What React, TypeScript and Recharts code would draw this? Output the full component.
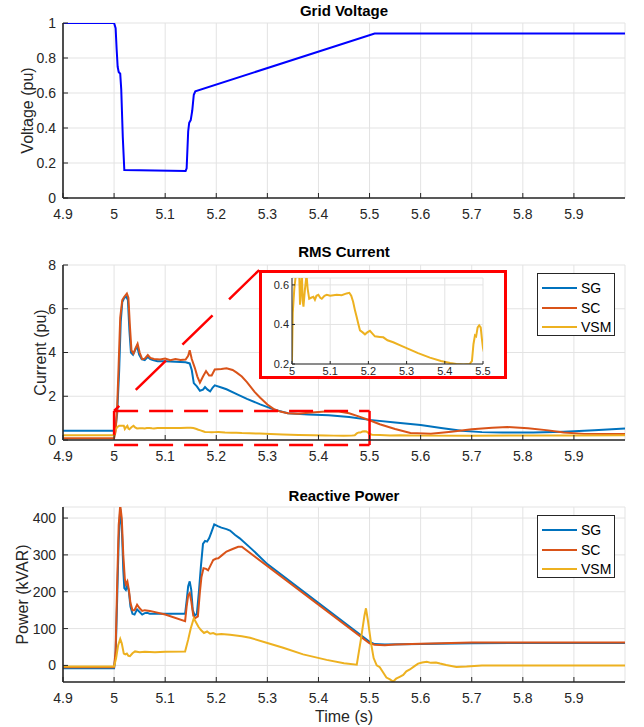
import React from 'react'
import { LineChart, Line, XAxis, YAxis, CartesianGrid, ReferenceLine, Legend } from 'recharts'

// axis ticks
const timeTicks = [4.9, 5, 5.1, 5.2, 5.3, 5.4, 5.5, 5.6, 5.7, 5.8, 5.9]
const voltTicks = [0, 0.2, 0.4, 0.6, 0.8, 1]
const currentTicks = [0, 2, 4, 6, 8]
const powerTicks = [0, 100, 200, 300, 400]
const insetTimeTicks = [5, 5.1, 5.2, 5.3, 5.4, 5.5]
const insetTicks = [0.2, 0.4, 0.6]
const seriesOrder = ['SG', 'SC', 'VSM']

// [time (s), value]
const gridVoltage: [number, number][] = [
  [4.9, 1], [5.0, 1], [5.003, 0.97], [5.005, 0.85], [5.007, 0.75], [5.009, 0.72], [5.012, 0.71],
  [5.014, 0.62], [5.017, 0.35], [5.02, 0.16], [5.14, 0.155], [5.142, 0.17], [5.145, 0.38],
  [5.147, 0.43], [5.15, 0.445], [5.153, 0.5], [5.156, 0.59], [5.159, 0.61], [5.51, 0.94], [6.0, 0.94],
]

const currentSG: [number, number][] = [
  [4.9, 0.42], [5.0, 0.42], [5.003, 0.6], [5.006, 1.2], [5.01, 3.2], [5.013, 5.4], [5.016, 6.3],
  [5.02, 6.5], [5.024, 6.55], [5.027, 6.4], [5.03, 5.0], [5.033, 4.0], [5.037, 3.9], [5.041, 4.1],
  [5.045, 4.3], [5.049, 3.9], [5.054, 3.7], [5.06, 3.65], [5.066, 3.8], [5.071, 3.7], [5.076, 3.65],
  [5.085, 3.6], [5.1, 3.6], [5.12, 3.58], [5.14, 3.55], [5.148, 3.5], [5.152, 3.2], [5.156, 2.6],
  [5.162, 2.45], [5.168, 2.25], [5.174, 2.3], [5.178, 2.42], [5.183, 2.3], [5.188, 2.22], [5.193, 2.4],
  [5.197, 2.5], [5.21, 2.4], [5.22, 2.32], [5.24, 2.1], [5.26, 1.88], [5.286, 1.63], [5.312, 1.4],
  [5.34, 1.22], [5.38, 1.17], [5.42, 1.13], [5.46, 1.05], [5.5, 0.92], [5.55, 0.8], [5.6, 0.69],
  [5.64, 0.55], [5.68, 0.42], [5.72, 0.36], [5.76, 0.34], [5.82, 0.34], [5.88, 0.38], [5.94, 0.45], [6.0, 0.53],
]

const currentSC: [number, number][] = [
  [4.9, 0.08], [5.0, 0.08], [5.003, 0.4], [5.006, 1.5], [5.009, 3.5], [5.012, 5.6], [5.016, 6.4],
  [5.02, 6.55], [5.025, 6.7], [5.028, 6.5], [5.031, 5.2], [5.034, 4.1], [5.038, 3.95], [5.042, 4.2],
  [5.046, 4.4], [5.05, 4.0], [5.055, 3.7], [5.06, 3.72], [5.066, 3.88], [5.071, 3.75], [5.078, 3.7],
  [5.09, 3.68], [5.1, 3.72], [5.11, 3.65], [5.12, 3.7], [5.13, 3.66], [5.14, 3.68], [5.145, 3.85],
  [5.148, 4.1], [5.152, 3.7], [5.158, 3.3], [5.163, 2.9], [5.168, 2.62], [5.174, 2.9], [5.18, 3.15],
  [5.186, 2.95], [5.191, 2.95], [5.197, 3.22], [5.21, 3.25], [5.22, 3.28], [5.232, 3.2], [5.24, 3.08],
  [5.25, 2.9], [5.26, 2.65], [5.275, 2.2], [5.286, 1.93], [5.3, 1.62], [5.312, 1.42], [5.325, 1.3],
  [5.34, 1.22], [5.36, 1.2], [5.38, 1.25], [5.4, 1.28], [5.42, 1.31], [5.44, 1.3], [5.46, 1.22],
  [5.48, 1.07], [5.5, 0.9], [5.52, 0.72], [5.55, 0.5], [5.58, 0.32], [5.62, 0.29], [5.66, 0.38],
  [5.7, 0.49], [5.74, 0.56], [5.77, 0.59], [5.81, 0.54], [5.85, 0.44], [5.88, 0.34], [5.92, 0.28],
  [5.96, 0.27], [6.0, 0.28],
]

const currentVSM: [number, number][] = [
  [4.9, 0.22], [5.0, 0.22], [5.002, 0.46], [5.006, 0.58], [5.01, 0.65], [5.019, 0.65], [5.021, 0.5],
  [5.024, 0.6], [5.026, 0.65], [5.028, 0.52], [5.03, 0.49], [5.034, 0.58], [5.038, 0.65], [5.041, 0.58],
  [5.045, 0.53], [5.05, 0.535], [5.056, 0.54], [5.06, 0.525], [5.064, 0.545], [5.069, 0.55],
  [5.074, 0.535], [5.078, 0.53], [5.085, 0.545], [5.091, 0.55], [5.1, 0.545], [5.117, 0.55],
  [5.13, 0.548], [5.143, 0.557], [5.15, 0.56], [5.155, 0.545], [5.16, 0.515], [5.165, 0.47],
  [5.169, 0.44], [5.174, 0.4], [5.178, 0.37], [5.185, 0.36], [5.191, 0.35], [5.197, 0.36],
  [5.204, 0.368], [5.21, 0.355], [5.217, 0.34], [5.23, 0.337], [5.239, 0.335], [5.25, 0.32],
  [5.265, 0.31], [5.285, 0.293], [5.306, 0.275], [5.33, 0.255], [5.361, 0.232], [5.39, 0.215],
  [5.414, 0.205], [5.43, 0.2], [5.449, 0.198], [5.465, 0.2], [5.471, 0.215], [5.475, 0.3],
  [5.479, 0.345], [5.482, 0.34], [5.486, 0.385], [5.49, 0.395], [5.494, 0.385], [5.497, 0.33],
  [5.5, 0.28], [5.505, 0.24], [5.52, 0.23], [5.54, 0.21], [5.56, 0.22], [5.6, 0.2], [5.7, 0.2],
  [5.8, 0.21], [5.9, 0.21], [6.0, 0.22],
]

const powerSG: [number, number][] = [
  [4.9, -8], [5.0, -8], [5.003, 30], [5.006, 180], [5.009, 340], [5.012, 425], [5.015, 380],
  [5.018, 260], [5.02, 210], [5.023, 205], [5.026, 218], [5.029, 200], [5.032, 160], [5.036, 140],
  [5.04, 138], [5.045, 152], [5.05, 145], [5.055, 138], [5.06, 142], [5.065, 143], [5.07, 140],
  [5.1, 140], [5.139, 140], [5.142, 175], [5.145, 215], [5.148, 228], [5.151, 205], [5.154, 150],
  [5.158, 135], [5.162, 140], [5.166, 200], [5.17, 270], [5.174, 330], [5.178, 338], [5.182, 336],
  [5.186, 345], [5.19, 360], [5.196, 383], [5.203, 378], [5.21, 374], [5.22, 370], [5.227, 366],
  [5.237, 354], [5.246, 345], [5.27, 315], [5.3, 275], [5.5, 64], [5.51, 58], [5.53, 57], [5.6, 58],
  [5.7, 60], [5.8, 61], [6.0, 61],
]

const powerSC: [number, number][] = [
  [4.9, -5], [5.0, -5], [5.003, 40], [5.006, 220], [5.009, 380], [5.012, 435], [5.015, 400],
  [5.018, 300], [5.021, 235], [5.023, 220], [5.026, 228], [5.029, 205], [5.032, 170], [5.036, 150],
  [5.04, 150], [5.045, 165], [5.05, 155], [5.055, 148], [5.06, 150], [5.07, 148], [5.1, 138],
  [5.139, 120], [5.142, 160], [5.145, 190], [5.148, 196], [5.151, 175], [5.155, 135], [5.158, 128],
  [5.164, 133], [5.168, 200], [5.171, 240], [5.175, 264], [5.18, 262], [5.184, 258], [5.19, 275],
  [5.194, 286], [5.2, 290], [5.204, 291], [5.212, 300], [5.22, 309], [5.232, 316], [5.243, 322],
  [5.25, 322], [5.5, 60], [5.51, 56], [5.53, 55], [5.55, 57], [5.6, 59], [5.7, 62], [5.8, 62], [6.0, 62],
]

const powerVSM: [number, number][] = [
  [4.9, -3], [5.0, -3], [5.004, 20], [5.008, 55], [5.012, 72], [5.015, 60], [5.019, 32], [5.022, 30],
  [5.025, 32], [5.028, 26], [5.031, 25], [5.036, 33], [5.041, 38], [5.05, 36], [5.06, 37], [5.08, 36],
  [5.1, 37], [5.139, 38], [5.145, 70], [5.15, 100], [5.156, 128], [5.16, 118], [5.165, 105], [5.17, 96],
  [5.176, 88], [5.182, 92], [5.188, 86], [5.194, 88], [5.2, 84], [5.21, 85], [5.227, 83], [5.25, 79],
  [5.266, 75], [5.3, 61], [5.331, 48], [5.37, 30], [5.416, 15], [5.45, 6], [5.475, 2], [5.483, 70],
  [5.49, 135], [5.493, 155], [5.497, 120], [5.503, 60], [5.508, 20], [5.514, 0], [5.52, -5],
  [5.527, -20], [5.533, -33], [5.54, -38], [5.546, -44], [5.552, -36], [5.559, -31], [5.566, -26],
  [5.572, -16], [5.579, -11], [5.588, -2], [5.595, 5], [5.603, 8], [5.612, 10], [5.62, 7], [5.63, 8],
  [5.638, 5], [5.65, 1], [5.67, -4], [5.69, -3], [5.72, 0], [5.8, 0], [5.9, 0], [6.0, 0],
]

// zoom annotation on the RMS current panel
const zoomBox = { t0: 5.0, t1: 5.5, lo: -0.23, hi: 1.33 }
const insetCorner = { t: 5.284, v: 7.77 }

const AXIS = '#262626'
const GRID = '#e3e3e3'
const FONT = '"Liberation Sans", Arial, Helvetica, sans-serif'
const C_SG = '#0072BD'
const C_SC = '#D95319'
const C_VSM = '#EDB120'
const RED = '#ff0000'

const rows = (pts: [number, number][]) => pts.map(([t, v]) => ({ t, v }))
const fmt = (v: number) => String(Math.round(v * 10) / 10)
const blank = () => ''
const tickStyle = { fill: AXIS, fontSize: 14, fontFamily: FONT }
const labelStyle = { textAnchor: 'middle', fill: AXIS, fontSize: 16, fontFamily: FONT } as any

function frame(yDomain: number[], yTicks: number[], yLabel: string, labelX: number, xHeight: number, xLabel?: string) {
  return (
    <>
      <CartesianGrid xAxisId="b" yAxisId="l" stroke={GRID} strokeWidth={1} fill="none" />
      <XAxis xAxisId="b" type="number" dataKey="t" domain={[4.9, 6]} ticks={timeTicks} interval={0}
        allowDataOverflow height={xHeight} tickSize={-5} tickMargin={16} tick={tickStyle}
        tickFormatter={fmt} stroke={AXIS} axisLine={{ stroke: AXIS, strokeWidth: 1.6 }}
        tickLine={{ stroke: AXIS, strokeWidth: 1 }}
        label={xLabel ? { value: xLabel, position: 'insideBottom', offset: 5, style: labelStyle } : undefined} />
      <XAxis xAxisId="t" orientation="top" type="number" dataKey="t" domain={[4.9, 6]} ticks={timeTicks}
        interval={0} allowDataOverflow height={0} tickSize={-5} tickFormatter={blank} stroke={AXIS}
        axisLine={{ stroke: AXIS, strokeWidth: 1.6 }} tickLine={{ stroke: AXIS, strokeWidth: 1 }} />
      <YAxis yAxisId="l" type="number" domain={yDomain} ticks={yTicks} interval={0} allowDataOverflow
        width={63} tickSize={-5} tickMargin={12} tick={tickStyle} tickFormatter={fmt} stroke={AXIS}
        axisLine={{ stroke: AXIS, strokeWidth: 1.6 }} tickLine={{ stroke: AXIS, strokeWidth: 1 }}
        label={{ value: yLabel, angle: -90, position: 'insideLeft', offset: labelX, style: labelStyle }} />
      <YAxis yAxisId="r" orientation="right" type="number" domain={yDomain} ticks={yTicks} interval={0}
        allowDataOverflow width={0} tickSize={-5} tickFormatter={blank} stroke={AXIS}
        axisLine={{ stroke: AXIS, strokeWidth: 1.6 }} tickLine={{ stroke: AXIS, strokeWidth: 1 }} />
    </>
  )
}

function LegendBox(props: any) {
  const items = [...(props.payload || [])].sort(
    (a: any, b: any) => seriesOrder.indexOf(a.value) - seriesOrder.indexOf(b.value),
  )
  return (
    <div style={{ position: 'relative', width: 78, height: 63, boxSizing: 'border-box', border: `1px solid ${AXIS}`, background: '#fff', fontFamily: FONT }}>
      {items.map((it: any, i: number) => (
        <div key={i} style={{ position: 'absolute', left: 4, top: 4 + i * 19.5, width: 72, height: 20 }}>
          <div style={{ position: 'absolute', left: 0, top: 9, width: 35, height: 2, background: it.color }} />
          <span style={{ position: 'absolute', left: 39, top: 0, lineHeight: '20px', fontSize: 14, color: '#000' }}>{it.value}</span>
        </div>
      ))}
    </div>
  )
}

const titleStyle = (y: number): React.CSSProperties => ({
  position: 'absolute', left: 63, width: 562, top: y - 10, height: 20, lineHeight: '20px',
  textAlign: 'center', fontWeight: 'bold', fontSize: 15, color: '#000', fontFamily: FONT,
})

const line = (name: string, data: [number, number][], color: string) => (
  <Line key={name} name={name} data={rows(data)} dataKey="v" xAxisId="b" yAxisId="l" type="linear"
    stroke={color} strokeWidth={2} dot={false} activeDot={false} isAnimationActive={false} />
)

export default function App() {
  return (
    <div style={{ position: 'absolute', left: 0, top: 0, width: 644, height: 727, background: '#fff', fontFamily: FONT }}>
      <div style={{ position: 'absolute', left: 0, top: 0 }}>
        <LineChart width={644} height={230} margin={{ top: 23, right: 19, bottom: 0, left: 0 }}>
          {frame([0, 1], voltTicks, 'Voltage (pu)', 27, 32)}
          <Line data={rows(gridVoltage)} dataKey="v" xAxisId="b" yAxisId="l" type="linear" stroke="#0000ff"
            strokeWidth={2} dot={false} activeDot={false} isAnimationActive={false} />
        </LineChart>
      </div>

      <div style={{ position: 'absolute', left: 0, top: 230 }}>
        <LineChart width={644} height={242} margin={{ top: 35, right: 19, bottom: 0, left: 0 }}>
          {frame([0, 8], currentTicks, 'Current (pu)', 40, 32)}
          {line('SG', currentSG, C_SG)}
          {line('SC', currentSC, C_SC)}
          {line('VSM', currentVSM, C_VSM)}
          <ReferenceLine xAxisId="b" yAxisId="l" ifOverflow="visible" stroke={RED} strokeWidth={2.5} strokeDasharray="24 11"
            segment={[{ x: zoomBox.t0, y: zoomBox.hi }, { x: zoomBox.t1, y: zoomBox.hi }]} />
          <ReferenceLine xAxisId="b" yAxisId="l" ifOverflow="visible" stroke={RED} strokeWidth={2.5} strokeDasharray="24 11"
            segment={[{ x: zoomBox.t0, y: zoomBox.lo }, { x: zoomBox.t1, y: zoomBox.lo }]} />
          <ReferenceLine xAxisId="b" yAxisId="l" ifOverflow="visible" stroke={RED} strokeWidth={2.5} strokeDasharray="24 11"
            segment={[{ x: zoomBox.t0, y: zoomBox.hi }, { x: zoomBox.t0, y: zoomBox.lo }]} />
          <ReferenceLine xAxisId="b" yAxisId="l" ifOverflow="visible" stroke={RED} strokeWidth={2.5}
            segment={[{ x: zoomBox.t1, y: zoomBox.hi }, { x: zoomBox.t1, y: zoomBox.lo }]} />
          <ReferenceLine xAxisId="b" yAxisId="l" ifOverflow="visible" stroke={RED} strokeWidth={2.5} strokeDasharray="42 23"
            segment={[{ x: insetCorner.t, y: insetCorner.v }, { x: zoomBox.t0, y: zoomBox.hi }]} />
          <Legend layout="vertical" align="center" verticalAlign="middle" content={LegendBox}
            wrapperStyle={{ top: 43, left: 537, width: 78, height: 63 }} />
        </LineChart>
      </div>

      <div style={{ position: 'absolute', left: 259, top: 270, width: 248, height: 109, boxSizing: 'border-box', border: `3px solid ${RED}`, background: '#fff' }}>
        <LineChart width={242} height={106} margin={{ top: 5, right: 21, bottom: 0, left: 0 }}>
          <CartesianGrid xAxisId="b" yAxisId="l" stroke={GRID} strokeWidth={1} fill="none" />
          <XAxis xAxisId="b" type="number" dataKey="t" domain={[5, 5.5]} ticks={insetTimeTicks} interval={0}
            allowDataOverflow height={15} tickSize={-3} tickMargin={6} tick={{ ...tickStyle, fontSize: 11 }}
            tickFormatter={fmt} stroke={AXIS} axisLine={{ stroke: AXIS, strokeWidth: 1 }} />
          <XAxis xAxisId="t" orientation="top" type="number" dataKey="t" domain={[5, 5.5]} ticks={insetTimeTicks}
            interval={0} allowDataOverflow height={0} tickSize={-3} tickFormatter={blank} stroke={AXIS}
            axisLine={{ stroke: AXIS, strokeWidth: 1 }} />
          <YAxis yAxisId="l" type="number" domain={[0.2, 0.635]} ticks={insetTicks} interval={0} allowDataOverflow
            width={30} tickSize={-3} tickMargin={6} tick={{ ...tickStyle, fontSize: 11 }} tickFormatter={fmt}
            stroke={AXIS} axisLine={{ stroke: AXIS, strokeWidth: 1 }} />
          <YAxis yAxisId="r" orientation="right" type="number" domain={[0.2, 0.635]} ticks={insetTicks} interval={0}
            allowDataOverflow width={0} tickSize={-3} tickFormatter={blank} stroke={AXIS}
            axisLine={{ stroke: AXIS, strokeWidth: 1 }} />
          <Line data={rows(currentVSM)} dataKey="v" xAxisId="b" yAxisId="l" type="linear" stroke={C_VSM}
            strokeWidth={2} dot={false} activeDot={false} isAnimationActive={false} />
        </LineChart>
      </div>

      <div style={{ position: 'absolute', left: 0, top: 472 }}>
        <LineChart width={644} height={255} margin={{ top: 35, right: 19, bottom: 0, left: 0 }}>
          {frame([-45, 430], powerTicks, 'Power (kVAR)', 22, 45, 'Time (s)')}
          {line('SG', powerSG, C_SG)}
          {line('SC', powerSC, C_SC)}
          {line('VSM', powerVSM, C_VSM)}
          <Legend layout="vertical" align="center" verticalAlign="middle" content={LegendBox}
            wrapperStyle={{ top: 43, left: 537, width: 78, height: 63 }} />
        </LineChart>
      </div>

      <div style={titleStyle(11)}>Grid Voltage</div>
      <div style={titleStyle(252)}>RMS Current</div>
      <div style={titleStyle(496)}>Reactive Power</div>
    </div>
  )
}
